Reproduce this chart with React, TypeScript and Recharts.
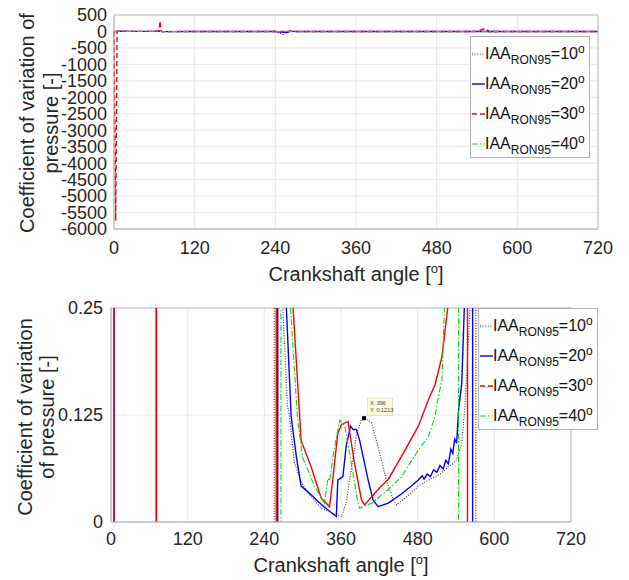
import React from "react";
import { LineChart, Line, XAxis, YAxis, CartesianGrid, ReferenceArea, ReferenceDot } from "recharts";

// crank angle ticks and y ticks
const angleTicks = [0, 120, 240, 360, 480, 600, 720];
const fullTicks = [500, 0, -500, -1000, -1500, -2000, -2500, -3000, -3500, -4000, -4500, -5000, -5500, -6000];
const zoomTicks = [0, 0.125, 0.25];

const seriesLabels = ["10", "20", "30", "40"];

// IAA = 10 deg
const angles10 = [0, 60, 120, 180, 240, 252, 255.5, 255.7, 260, 265, 269, 276, 279, 287, 297.6, 313, 329, 345, 360.5, 368, 376, 384, 392, 396, 408, 418, 431, 442, 447, 460, 470, 481, 490, 500, 507, 515, 522, 528, 535, 541, 549, 554, 562, 566, 570.9, 571.1, 575, 600, 660, 720];
const cov10 = [-0.6, -0.5, -0.6, -0.8, -2, -90, -6, 6, 1.2, 0.5, 0.25, 0.137, 0.125, 0.07, 0.046, 0.03, 0.016, 0.011, 0.006, 0.022, 0.061, 0.1, 0.12, 0.1213, 0.116, 0.088, 0.049, 0.026, 0.02, 0.028, 0.034, 0.042, 0.046, 0.05, 0.053, 0.056, 0.06, 0.065, 0.068, 0.073, 0.092, 0.135, 0.25, 0.8, 8, -8, -1.5, -0.8, -0.6, -0.5];

// IAA = 20 deg
const angles20 = [0, 2, 4.6, 4.8, 30, 60, 70.9, 71.1, 120, 180, 240, 257, 260.9, 261.1, 266, 271, 274.5, 282, 290, 297.6, 313, 324, 339.6, 352.7, 355, 363, 368, 375, 379, 384, 389, 402.5, 410, 418, 434, 455, 470, 481, 487, 490, 495, 500, 505, 510, 515, 520, 524, 528, 532, 535, 538, 541, 544, 549, 553, 560, 565.9, 566.1, 570, 600, 660, 720];
const cov20 = [-0.5, -1, -6, 6, 1.5, 2, 6, -6, -0.8, -0.6, -1, -30, -6, 6, 1.2, 0.45, 0.25, 0.123, 0.077, 0.042, 0.032, 0.024, 0.014, 0.0065, 0.049, 0.053, 0.088, 0.112, 0.108, 0.108, 0.096, 0.049, 0.026, 0.018, 0.022, 0.033, 0.042, 0.049, 0.054, 0.05, 0.056, 0.053, 0.061, 0.058, 0.066, 0.062, 0.072, 0.068, 0.085, 0.08, 0.097, 0.092, 0.131, 0.162, 0.25, 1, 8, -8, -1.5, -0.8, -0.6, -0.5];

// IAA = 30 deg
const angles30 = [0, 2.5, 4.6, 4.8, 30, 60, 67, 68.5, 70, 70.9, 71.1, 120, 180, 240, 255, 258.6, 258.8, 265, 275, 285, 297.6, 313, 329, 342, 347, 355, 361, 371, 381, 392, 397, 418, 434, 455, 481, 497, 507, 518, 527, 540, 552, 557.9, 558.1, 565, 600, 660, 720];
const cov30 = [-0.5, -5750, -5, 5, 1.5, 2, 20, 320, 15, 6, -6, -0.8, -0.6, -1, -3, -6, 6, 1.5, 0.5, 0.25, 0.095, 0.065, 0.028, 0.018, 0.049, 0.104, 0.114, 0.1175, 0.069, 0.026, 0.02, 0.038, 0.05, 0.077, 0.112, 0.143, 0.16, 0.193, 0.25, 1.5, 90, 8, -8, -1.5, -0.8, -0.6, -0.5];

// IAA = 40 deg
const angles40 = [0, 60, 120, 180, 240, 260, 265.9, 266.1, 272, 277, 281, 292, 300, 318.6, 334, 339.6, 342, 345, 350, 358, 366, 376, 386.6, 389, 408, 434, 455, 481, 497, 507, 512.6, 518, 522, 530, 543.9, 544.1, 550, 600, 660, 720];
const cov40 = [-0.5, -0.6, -0.5, -0.6, -0.8, -2, -6, 6, 1.2, 0.5, 0.25, 0.12, 0.075, 0.042, 0.022, 0.051, 0.048, 0.063, 0.088, 0.119, 0.112, 0.069, 0.022, 0.016, 0.022, 0.038, 0.053, 0.084, 0.1, 0.123, 0.147, 0.166, 0.25, 1, 8, -8, -1.5, -0.8, -0.6, -0.5];

const toPoints = (a: number[], v: number[]) => a.map((x, i) => ({ a: x, v: v[i] }));

const series = [
  { label: seriesLabels[0], data: toPoints(angles10, cov10), color: "#333333", dash: "1 1.6", width: 1.1 },
  { label: seriesLabels[1], data: toPoints(angles20, cov20), color: "#0000ff", dash: undefined, width: 1.4 },
  { label: seriesLabels[2], data: toPoints(angles30, cov30), color: "#ff0000", dash: "5 3", width: 1.4 },
  { label: seriesLabels[3], data: toPoints(angles40, cov40), color: "#00dd00", dash: "6 2 1.5 2", width: 1.1 },
];

const FONT = "'Liberation Sans', Arial, sans-serif";
const TXT = "#262626";
const AXIS = "#bdbdbd";
const GRID = "#e8e8e8";
const tickStyle = { fontSize: 18, fill: TXT, fontFamily: FONT };

function LegendBox({ left, top }: { left: number; top: number }) {
  return (
    <div
      style={{
        position: "absolute",
        left,
        top,
        width: 120,
        height: 122,
        boxSizing: "border-box",
        border: "1px solid #b0b0b0",
        background: "#fff",
        fontFamily: FONT,
        color: "#111",
        paddingTop: 2,
      }}
    >
      {series.map((s) => (
        <div key={s.label} style={{ display: "flex", alignItems: "center", height: 30, paddingLeft: 1 }}>
          <svg width={13} height={6} style={{ flexShrink: 0 }}>
            <line x1={0} y1={3} x2={13} y2={3} stroke={s.color} strokeWidth={s.width} strokeDasharray={s.dash} />
          </svg>
          <span style={{ fontSize: 16, whiteSpace: "nowrap", lineHeight: "16px" }}>
            IAA<sub style={{ fontSize: 12, verticalAlign: "-5px" }}>RON95</sub>={s.label}
            <sup style={{ fontSize: 12, verticalAlign: "6px" }}>o</sup>
          </span>
        </div>
      ))}
    </div>
  );
}

function DataTip(props: any) {
  const { cx, cy } = props;
  if (cx == null || cy == null) return null;
  return (
    <g>
      <rect x={cx - 2} y={cy - 2} width={4} height={4} fill="#000" />
      <rect x={cx + 3.5} y={cy - 20} width={25} height={17} fill="#ffffe1" stroke="#d4d4b8" strokeWidth={0.6} />
      <text x={cx + 6} y={cy - 13.5} fontSize={5.5} fill="#333" fontFamily={FONT}>X: 396</text>
      <text x={cx + 6} y={cy - 6} fontSize={5.5} fill="#333" fontFamily={FONT}>Y: 0.1213</text>
    </g>
  );
}

function renderLines() {
  return series.map((s) => (
    <Line
      key={s.label}
      data={s.data}
      dataKey="v"
      type="linear"
      stroke={s.color}
      strokeWidth={s.width}
      strokeDasharray={s.dash}
      dot={false}
      activeDot={false}
      isAnimationActive={false}
    />
  ));
}

function AxisTitles({ cx, cy, xBase, yLines }: { cx: number; cy: number; xBase: number; yLines: { text: string; x: number }[] }) {
  return (
    <svg width={629} height={290} style={{ position: "absolute", left: 0, top: 0, pointerEvents: "none" }}>
      <text x={cx} y={xBase} textAnchor="middle" fontSize={20} fill={TXT} fontFamily={FONT}>
        Crankshaft angle [<tspan fontSize={13} dy={-8}>o</tspan><tspan dy={8}>]</tspan>
      </text>
      {yLines.map((l) => (
        <text key={l.text} x={0} y={0} transform={`translate(${l.x},${cy}) rotate(-90)`} textAnchor="middle" fontSize={20} fill={TXT} fontFamily={FONT}>
          {l.text}
        </text>
      ))}
    </svg>
  );
}

function FullChart() {
  return (
    <div style={{ position: "relative", width: 629, height: 290 }}>
      <LineChart width={629} height={290} margin={{ top: 15, right: 31, bottom: 31, left: 54 }}>
        <CartesianGrid stroke={GRID} />
        <XAxis
          dataKey="a"
          type="number"
          domain={[0, 720]}
          ticks={angleTicks}
          allowDuplicatedCategory={false}
          stroke={AXIS}
          tickSize={0}
          tickMargin={12}
          height={30}
          tick={tickStyle}
        />
        <YAxis
          type="number"
          domain={[-6000, 500]}
          ticks={fullTicks}
          interval={0}
          stroke={AXIS}
          tickSize={0}
          tickMargin={7}
          width={60}
          tick={tickStyle}
        />
        <ReferenceArea x1={0} x2={720} y1={-6000} y2={500} fill="none" stroke={AXIS} strokeOpacity={1} />
        {renderLines()}
      </LineChart>
      <LegendBox left={470} top={36} />
      <AxisTitles
        cx={356}
        cy={123}
        xBase={281}
        yLines={[
          { text: "Coefficient of variation of", x: 34 },
          { text: "pressure [-]", x: 58 },
        ]}
      />
    </div>
  );
}

function ZoomChart() {
  return (
    <div style={{ position: "relative", width: 629, height: 290 }}>
      <LineChart width={629} height={290} margin={{ top: 18, right: 58, bottom: 28, left: 51 }}>
        <CartesianGrid stroke={GRID} />
        <XAxis
          dataKey="a"
          type="number"
          domain={[0, 720]}
          ticks={angleTicks}
          allowDuplicatedCategory={false}
          stroke={AXIS}
          tickSize={0}
          tickMargin={10}
          height={30}
          tick={tickStyle}
        />
        <YAxis
          type="number"
          domain={[0, 0.25]}
          ticks={zoomTicks}
          allowDataOverflow
          interval={0}
          stroke={AXIS}
          tickSize={0}
          tickMargin={8}
          width={60}
          tick={tickStyle}
        />
        <ReferenceArea x1={0} x2={720} y1={0} y2={0.25} fill="none" stroke={AXIS} strokeOpacity={1} />
        {renderLines()}
        <ReferenceDot x={396} y={0.1213} shape={<DataTip />} />
      </LineChart>
      <LegendBox left={478} top={18} />
      <AxisTitles
        cx={341}
        cy={127}
        xBase={282}
        yLines={[
          { text: "Coefficient of variation", x: 32 },
          { text: "of pressure [-]", x: 54 },
        ]}
      />
    </div>
  );
}

export default function App() {
  return (
    <div style={{ position: "absolute", left: 0, top: 0, width: 629, height: 580, background: "#fff", fontFamily: FONT }}>
      <FullChart />
      <ZoomChart />
    </div>
  );
}
